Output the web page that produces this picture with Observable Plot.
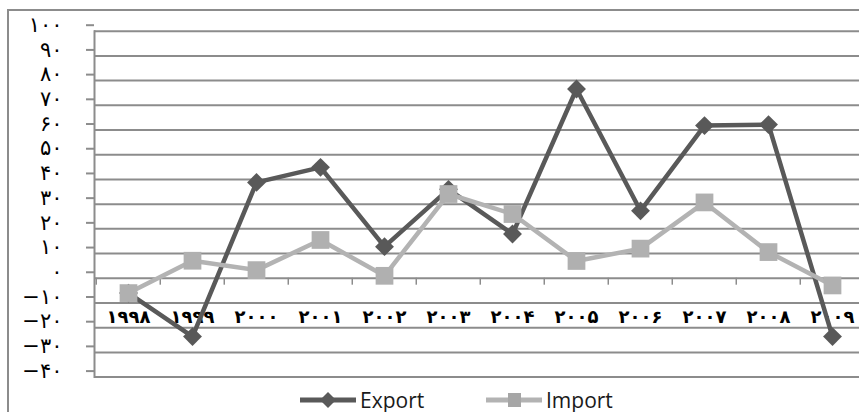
<!DOCTYPE html>
<html>
<head>
<meta charset="utf-8">
<script src="https://cdn.jsdelivr.net/npm/d3@7"></script>
<script src="https://cdn.jsdelivr.net/npm/@observablehq/plot@0.6"></script>
<style>
  html, body { margin: 0; padding: 0; background: #fff; width: 859px; height: 412px; overflow: hidden; }
  #frame { position: absolute; left: 7px; top: 9px; width: 2000px; height: 2000px; border-left: 2px solid #8c8c8c; border-top: 2px solid #8c8c8c; }
  #chart { position: absolute; left: 0; top: 0; }
  #legend { position: absolute; left: 0; top: 385px; width: 859px; height: 30px; font-family: "Open Sans", sans-serif; font-size: 21px; color: #1a1a1a; }
  .item { position: absolute; top: 0; display: flex; align-items: center; height: 30px; }
  .item svg { margin-right: 2px; }
</style>
</head>
<body>
<div id="frame"></div>
<div id="chart"></div>
<div id="legend">
  <div class="item" style="left:298px">
    <svg width="60" height="30"><line x1="2" x2="58" y1="15" y2="15" stroke="#595959" stroke-width="5"/><path d="M30,7 L38,15 L30,23 L22,15 Z" fill="#595959"/></svg><span>Export</span>
  </div>
  <div class="item" style="left:484px">
    <svg width="60" height="30"><line x1="2" x2="58" y1="15" y2="15" stroke="#b3b3b3" stroke-width="5"/><rect x="24" y="8" width="13" height="14" fill="#a6a6a6"/></svg><span>Import</span>
  </div>
</div>
<script>
const years = ["1998","1999","2000","2001","2002","2003","2004","2005","2006","2007","2008","2009"];
const exportVals = [-6, -23.6, 38.8, 44.9, 12.8, 36, 17.9, 76.6, 27.3, 61.8, 62.2, -23.6];
const importVals = [-6, 7.1, 3.3, 15.5, 1.0, 34.1, 26.0, 7.0, 12.0, 30.7, 10.6, -2.9];
const yTicks = [-40, -30, -20, -10, 0, 10, 20, 30, 40, 50, 60, 70, 80, 90, 100];

const fa = s => String(s).replace(/\d/g, d => "۰۱۲۳۴۵۶۷۸۹"[d]).replace("-", "−");

const exportData = years.map((y, i) => ({year: y, value: exportVals[i]}));
const importData = years.map((y, i) => ({year: y, value: importVals[i]}));

const W = 859, H = 390;
const step = (867 - 93.5) / years.length;

const chart = Plot.plot({
  width: W,
  height: H,
  marginLeft: 94,
  marginTop: 30.7,
  marginBottom: H - 376.6,
  marginRight: 0,
  style: {background: "transparent", overflow: "visible"},
  x: {type: "point", domain: years, range: [93.5, 867], padding: 0.5, axis: null},
  y: {domain: [-40, 100], range: [376.6, 30.7], axis: null},
  marks: [
    Plot.gridY(yTicks, {stroke: "#8c8c8c", strokeOpacity: 1, strokeWidth: 2}),
    Plot.axisY(yTicks, {tickSize: 8, tickPadding: 24, stroke: "#8c8c8c", strokeWidth: 2, tickFormat: fa,
      label: null, fontSize: 21, fontFamily: "DejaVu Sans", fill: "#000", dy: -6}),
    Plot.frame({anchor: "left", stroke: "#8c8c8c", strokeWidth: 2}),
    Plot.ruleX(years, {x: d => d, y1: 0, y2: -2.8, dx: -step / 2, stroke: "#8c8c8c", strokeWidth: 1.5}),
    Plot.text(years, {x: d => d, y: 0, dy: 39, text: fa, fontSize: 18, fontWeight: "bold",
      fontFamily: "DejaVu Sans", fill: "#000"}),
    Plot.line(exportData, {x: "year", y: "value", stroke: "#595959", strokeWidth: 4.5}),
    Plot.dot(exportData, {x: "year", y: "value", symbol: "diamond2", r: 8.5, fill: "#595959", stroke: "none"}),
    Plot.line(importData, {x: "year", y: "value", stroke: "#b3b3b3", strokeWidth: 4.5}),
    Plot.dot(importData, {x: "year", y: "value", symbol: "square", r: 10, fill: "#b0b0b0", stroke: "none"})
  ]
});
document.getElementById("chart").appendChild(chart);
</script>
</body>
</html>
